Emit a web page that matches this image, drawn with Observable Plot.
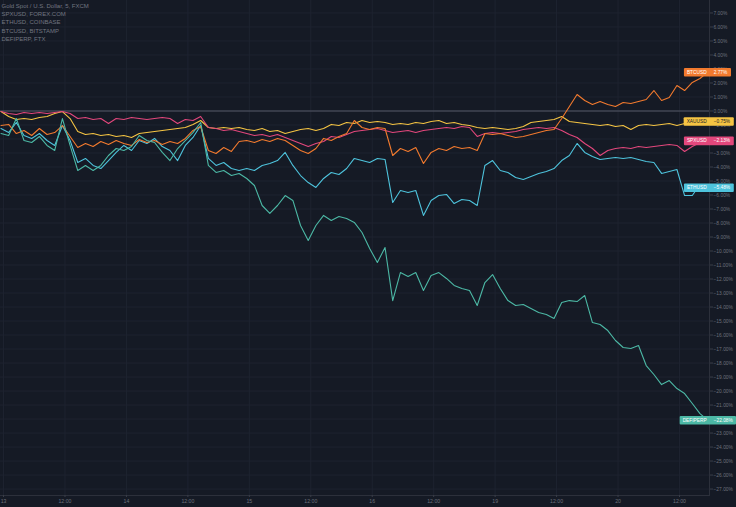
<!DOCTYPE html>
<html><head><meta charset="utf-8">
<script src="https://cdn.jsdelivr.net/npm/d3@7"></script>
<script src="https://cdn.jsdelivr.net/npm/@observablehq/plot@0.6"></script>
<style>
html,body{margin:0;padding:0;background:#151a25;}
#chart{width:736px;height:507px;overflow:hidden;}
svg{display:block;}
</style></head><body><div id="chart"></div>
<script>
// ---- data (percent change vs. start) ----
const legendLines = ["Gold Spot / U.S. Dollar, 5, FXCM","SPXUSD, FOREX.COM","ETHUSD, COINBASE","BTCUSD, BITSTAMP","DEFIPERP, FTX"];
const seriesNames = ["XAUUSD","SPXUSD","ETHUSD","BTCUSD","DEFIPERP"];
const seriesColors = ["#f5c443","#e3477c","#4ec3dc","#f27a2e","#4cb8a5"];
const labelTextColors = ["#1a1d27","#ffffff","#ffffff","#ffffff","#ffffff"];
const startHour = -0.5;   // hours since 13th 00:00 (trading time)
const stepHours = 1.5;

const xauValues = [-0.04,-0.39,-0.61,-0.54,-0.61,-0.46,-0.39,-0.18,-0.04,-0.54,
-1.46,-1.68,-1.61,-1.75,-1.68,-1.82,-1.75,-1.89,-1.61,-1.54,
-1.46,-1.39,-1.32,-1.25,-1.18,-0.96,-0.68,-1.18,-1.25,-1.18,
-1.25,-1.18,-1.32,-1.39,-1.25,-1.46,-1.39,-1.61,-1.46,-1.32,
-1.25,-1.39,-1.25,-0.96,-1.04,-0.82,-0.89,-0.68,-0.82,-0.75,
-0.82,-0.96,-0.89,-0.96,-0.82,-0.89,-0.75,-0.68,-0.89,-0.82,
-0.96,-1.04,-1.18,-1.25,-1.18,-1.25,-1.32,-1.25,-1.11,-0.82,
-0.75,-0.68,-0.61,-0.39,-0.75,-0.82,-0.89,-0.96,-1.04,-0.96,
-1.11,-1.04,-1.32,-1.04,-0.96,-1.04,-0.96,-0.89,-1.04,-0.89,
-0.96,-0.82,-0.75];

const spxValues = [-0.04,-0.18,-0.25,-0.11,-0.18,-0.11,-0.18,-0.11,-0.04,-0.18,
-0.54,-0.46,-0.61,-0.54,-0.89,-0.54,-0.61,-0.46,-0.54,-0.61,
-0.54,-0.46,-0.54,-0.89,-0.61,-0.68,-0.39,-1.18,-1.25,-1.39,
-1.32,-1.46,-1.61,-1.75,-1.68,-1.82,-1.68,-1.89,-2.11,-2.32,
-2.54,-2.32,-2.18,-1.82,-1.89,-1.68,-1.46,-1.39,-1.32,-1.25,
-1.39,-1.54,-1.46,-1.39,-1.54,-1.39,-1.32,-1.25,-1.18,-1.25,
-1.11,-1.18,-1.82,-1.61,-1.54,-1.61,-1.54,-1.46,-1.32,-1.25,
-1.18,-1.25,-1.18,-1.39,-1.68,-1.89,-2.32,-2.68,-3.18,-2.82,
-2.68,-2.61,-2.68,-2.54,-2.61,-2.54,-2.46,-2.39,-2.46,-2.89,
-2.54,-2.25,-2.13];

const ethValues = [-1.25,-1.54,-0.82,-1.75,-1.96,-1.61,-2.11,-2.46,-1.04,-2.11,
-3.68,-3.39,-3.89,-4.11,-3.54,-2.96,-2.46,-2.82,-2.11,-2.32,
-1.96,-2.54,-2.82,-3.54,-2.46,-1.89,-1.04,-3.39,-3.89,-3.68,
-4.11,-4.25,-4.11,-4.25,-3.89,-3.75,-3.54,-2.96,-3.89,-4.61,
-5.11,-5.46,-4.82,-4.39,-4.54,-4.11,-3.39,-3.54,-3.68,-3.39,
-3.46,-6.54,-5.68,-5.82,-5.68,-7.46,-6.39,-6.04,-5.96,-6.61,
-6.32,-6.39,-6.75,-3.89,-3.54,-4.25,-4.39,-4.75,-4.89,-4.68,
-4.46,-4.32,-4.11,-3.54,-3.18,-2.32,-2.96,-3.25,-3.46,-3.39,
-3.32,-3.39,-3.32,-3.46,-3.61,-3.68,-4.46,-4.32,-4.18,-6.04,
-6.04,-5.25,-5.48];

const btcValues = [-1.04,-0.96,-1.61,-1.39,-1.75,-1.25,-1.68,-1.54,-1.04,-1.82,
-2.61,-2.32,-2.54,-2.18,-2.39,-2.11,-2.32,-2.46,-2.04,-2.25,
-2.11,-2.39,-2.18,-2.32,-1.96,-1.39,-1.11,-2.82,-3.04,-2.61,
-2.89,-2.18,-2.11,-2.25,-2.04,-2.18,-1.96,-2.11,-2.46,-2.82,
-3.04,-2.68,-1.96,-2.11,-1.82,-1.61,-0.68,-1.18,-1.32,-1.18,
-1.25,-3.18,-2.68,-2.89,-2.61,-3.75,-2.96,-2.68,-2.82,-2.54,
-2.68,-2.61,-2.82,-1.61,-1.68,-1.61,-1.75,-1.89,-1.82,-1.68,
-1.54,-1.39,-1.32,-0.54,0.32,1.18,0.75,0.46,0.68,0.46,
0.32,0.61,0.54,0.68,0.82,1.46,0.75,0.96,1.82,1.46,
2.04,2.32,2.77];

const defiValues = [-1.61,-1.75,-0.54,-2.11,-2.25,-1.82,-2.46,-2.82,-0.54,-2.46,
-4.25,-3.89,-4.25,-3.89,-3.18,-2.68,-2.82,-2.54,-1.75,-2.11,
-2.25,-2.96,-3.54,-2.68,-2.11,-1.54,-0.82,-3.89,-4.39,-4.25,
-4.61,-4.46,-4.82,-5.32,-6.75,-7.32,-6.75,-6.04,-6.39,-8.18,
-9.25,-8.18,-7.46,-7.82,-7.54,-7.68,-7.96,-8.68,-9.82,-10.82,
-9.75,-13.54,-11.54,-11.82,-11.54,-12.82,-11.75,-11.54,-11.96,-12.46,
-12.68,-12.82,-13.89,-12.25,-11.68,-12.68,-13.54,-13.89,-13.82,-14.11,
-14.39,-14.54,-14.82,-13.68,-13.54,-13.61,-13.18,-15.11,-15.25,-15.68,
-16.39,-16.89,-16.96,-16.75,-18.18,-18.82,-19.54,-19.25,-19.82,-20.18,
-20.89,-21.61,-22.08];

const xTickHours = [0,12,24,36,48,60,72,84,96,108,120,132];
const xTickLabels = ["13","12:00","14","12:00","15","12:00","16","12:00","19","12:00","20","12:00"];
const yTicks = [-27,-26,-25,-24,-23,-22,-21,-20,-19,-18,-17,-16,-15,-14,-13,-12,-11,-10,-9,-8,-7,-6,-5,-4,-3,-2,-1,0,1,2,3,4,5,6,7];

// ---- build table ----
const seriesArrays = [xauValues, spxValues, ethValues, btcValues, defiValues];
const rows = [];
seriesArrays.forEach((arr, s) => arr.forEach((v, i) => rows.push({series: seriesNames[s], hour: startHour + i * stepHours, value: v})));
const fmtPct = v => (v < 0 ? "\u2212" : "") + Math.abs(v).toFixed(2) + "%";
const labelRows = seriesArrays.map((arr, s) => ({
  name: seriesNames[s], value: arr[arr.length - 1], hour: startHour + (arr.length - 1) * stepHours,
  fill: seriesColors[s], textFill: labelTextColors[s]
}));

const gridColor = "#1e2330";
const axisText = "#6c707b";
const fontFam = "'Liberation Sans', Arial, sans-serif";

const plot = Plot.plot({
  width: 736, height: 507,
  marginLeft: 0, marginRight: 27, marginTop: 0, marginBottom: 12,
  style: {background: "#151a25", fontFamily: fontFam, overflow: "visible"},
  x: {domain: [-0.59, 137.86]},
  y: {domain: [-27.46, 7.89]},
  color: {domain: seriesNames, range: seriesColors},
  marks: [
    Plot.gridY(yTicks, {stroke: gridColor, strokeOpacity: 1}),
    Plot.gridX(xTickHours, {stroke: gridColor, strokeOpacity: 1}),
    Plot.ruleY([0], {stroke: "#555966", strokeWidth: 1.2}),
    Plot.frame({anchor: "right", stroke: "#2c303b"}),
    Plot.frame({anchor: "bottom", stroke: "#2c303b"}),
    Plot.axisY(yTicks, {anchor: "right", tickSize: 3, tickPadding: 1, stroke: "#3a3e49", fill: axisText, fontSize: 4.9, tickFormat: fmtPct, label: null}),
    Plot.axisX(xTickHours, {anchor: "bottom", tickSize: 2, tickPadding: 2, stroke: "#3a3e49", fill: axisText, fontSize: 5.2, tickFormat: (d, i) => xTickLabels[i], label: null}),
    Plot.line(rows, {x: "hour", y: "value", z: "series", stroke: "series", strokeWidth: 1.1, curve: "linear"}),
    Plot.text([legendLines.join("\n")], {frameAnchor: "top-left", dx: 1, dy: 2, lineHeight: 1.35, fontSize: 6, fill: "#727681", textAnchor: "start"}),
    Plot.text(labelRows, {x: "hour", y: "value", text: "name", fill: "textFill", textAnchor: "end", dx: -1, fontSize: 4.8, ariaDescription: "label-name"}),
    Plot.text(labelRows, {x: "hour", y: "value", text: d => fmtPct(d.value), fill: "textFill", textAnchor: "start", dx: 6, fontSize: 4.8, ariaDescription: "label-value"})
  ]
});
document.getElementById("chart").append(plot);

// colored boxes behind the last-value labels
const nameG = plot.querySelector('g[aria-description="label-name"]');
const valueG = plot.querySelector('g[aria-description="label-value"]');
if (nameG && valueG) {
  const nameTexts = nameG.querySelectorAll("text");
  const valueTexts = valueG.querySelectorAll("text");
  const svgRect = plot.getBoundingClientRect();
  const boxG = document.createElementNS("http://www.w3.org/2000/svg", "g");
  nameG.parentNode.insertBefore(boxG, nameG);
  nameTexts.forEach((t, i) => {
    const a = t.getBoundingClientRect(), b = valueTexts[i].getBoundingClientRect();
    const cy = (a.top + a.bottom) / 2 - svgRect.top;
    const r = document.createElementNS("http://www.w3.org/2000/svg", "rect");
    const x0 = a.left - svgRect.left - 3;
    const x1 = Math.min(b.right - svgRect.left + 3, 736);
    r.setAttribute("x", x0); r.setAttribute("width", x1 - x0);
    r.setAttribute("y", cy - 4.3); r.setAttribute("height", 8.6);
    r.setAttribute("rx", 1);
    r.setAttribute("fill", labelRows[i].fill);
    boxG.append(r);
  });
}
</script>
</body></html>
